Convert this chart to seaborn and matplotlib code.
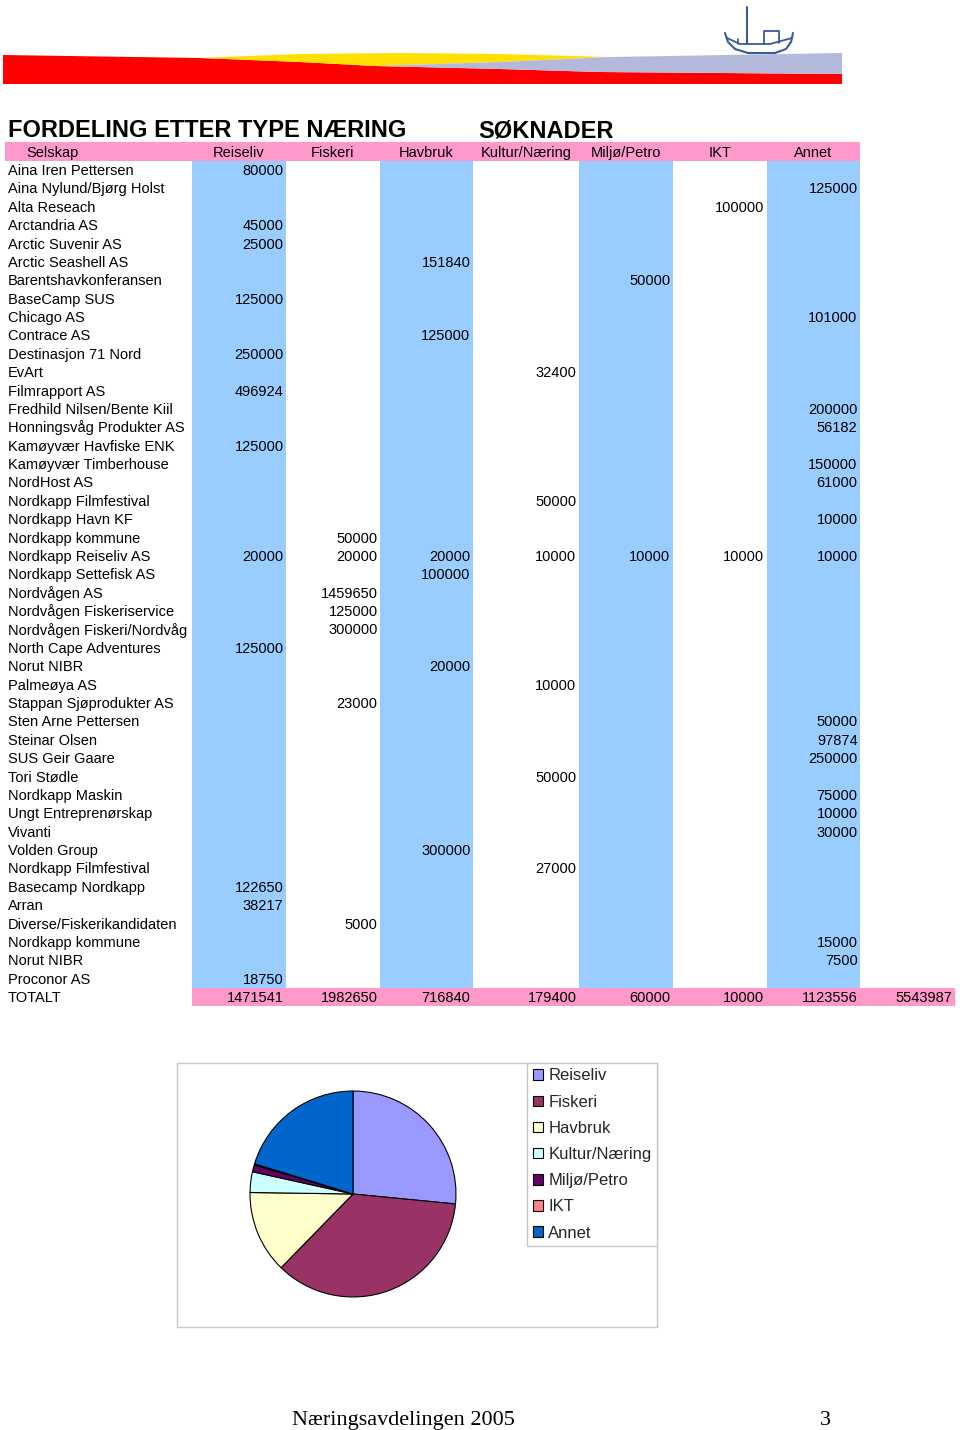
import matplotlib
matplotlib.use("Agg")
import matplotlib.pyplot as plt
from matplotlib.patches import Rectangle
import seaborn as sns

# ---------------- data ----------------
companies = [
    "Aina Iren Pettersen", "Aina Nylund/Bjørg Holst", "Alta Reseach", "Arctandria AS",
    "Arctic Suvenir AS", "Arctic Seashell AS", "Barentshavkonferansen", "BaseCamp SUS",
    "Chicago AS", "Contrace AS", "Destinasjon 71 Nord", "EvArt", "Filmrapport AS",
    "Fredhild Nilsen/Bente Kiil", "Honningsvåg Produkter AS", "Kamøyvær Havfiske ENK",
    "Kamøyvær Timberhouse", "NordHost AS", "Nordkapp Filmfestival", "Nordkapp Havn KF",
    "Nordkapp kommune", "Nordkapp Reiseliv AS", "Nordkapp Settefisk AS", "Nordvågen AS",
    "Nordvågen Fiskeriservice", "Nordvågen Fiskeri/Nordvåg", "North Cape Adventures",
    "Norut NIBR", "Palmeøya AS", "Stappan Sjøprodukter AS", "Sten Arne Pettersen",
    "Steinar Olsen", "SUS Geir Gaare", "Tori Stødle", "Nordkapp Maskin",
    "Ungt Entreprenørskap", "Vivanti", "Volden Group", "Nordkapp Filmfestival",
    "Basecamp Nordkapp", "Arran", "Diverse/Fiskerikandidaten", "Nordkapp kommune",
    "Norut NIBR", "Proconor AS",
]
categories = ["Reiseliv", "Fiskeri", "Havbruk", "Kultur/Næring", "Miljø/Petro", "IKT", "Annet"]

# values keyed by row index in `companies`
reiseliv = {0: 80000, 3: 45000, 4: 25000, 7: 125000, 10: 250000, 12: 496924, 15: 125000,
            21: 20000, 26: 125000, 39: 122650, 40: 38217, 44: 18750}
fiskeri = {20: 50000, 21: 20000, 23: 1459650, 24: 125000, 25: 300000, 29: 23000, 41: 5000}
havbruk = {5: 151840, 9: 125000, 21: 20000, 22: 100000, 27: 20000, 37: 300000}
kultur = {11: 32400, 18: 50000, 21: 10000, 28: 10000, 33: 50000, 38: 27000}
miljo = {6: 50000, 21: 10000}
ikt = {2: 100000, 21: 10000}
annet = {1: 125000, 8: 101000, 13: 200000, 14: 56182, 16: 150000, 17: 61000, 19: 10000,
         21: 10000, 30: 50000, 31: 97874, 32: 250000, 34: 75000, 35: 10000, 36: 30000,
         42: 15000, 43: 7500}
totals = [1471541, 1982650, 716840, 179400, 60000, 10000, 1123556]
grand_total = 5543987

pie_colors = ["#9999FF", "#993366", "#FFFFCC", "#CCFFFF", "#660066", "#FF8080", "#0066CC"]

# ---------------- style ----------------
sns.set_theme(style="white")
plt.rcParams["font.family"] = ["Liberation Sans", "DejaVu Sans"]

PINK = "#FF99CC"
BLUE = "#99CCFF"

fig = plt.figure(figsize=(9.6, 14.3), dpi=100)
ax = fig.add_axes([0, 0, 1, 1])
ax.set_xlim(0, 960)
ax.set_ylim(1430, 0)
ax.axis("off")

# ---------------- logo ----------------
red_top = [(3, 55), (200, 58), (300, 62), (375, 66), (500, 69), (600, 72), (842, 74)]
xs = [p[0] for p in red_top] + [842, 3]
ys = [p[1] for p in red_top] + [84, 84]
ax.fill(xs, ys, color="#FF0000", lw=0)
yel = [(200, 58), (300, 54), (400, 53), (500, 54), (610, 57), (500, 62), (375, 66), (300, 62)]
ax.fill([p[0] for p in yel], [p[1] for p in yel], color="#FFE000", lw=0)
lav = [(375, 66), (500, 62), (610, 57), (842, 53), (842, 74), (600, 72), (500, 69)]
ax.fill([p[0] for p in lav], [p[1] for p in lav], color="#B4B9DC", lw=0)
boat = "#3A5A9A"
ax.plot([747, 747], [7, 44], color=boat, lw=1.5)
hx = [725, 728, 735, 748, 775, 786, 791, 793]
hy = [33, 42, 49, 53, 53, 49, 42, 33]
ax.plot(hx, hy, color=boat, lw=1.5)
ax.plot([727, 740, 770, 792], [38, 44, 44, 38], color=boat, lw=1.3)
ax.plot([764, 764, 779, 779], [44, 31, 31, 43], color=boat, lw=1.3)
ax.plot([738, 738], [39, 44], color=boat, lw=1.2)

# ---------------- table ----------------
FS = 10.5
title_y = 137
ax.text(8, title_y, "FORDELING ETTER TYPE NÆRING", fontsize=17, fontweight="bold",
        va="baseline", ha="left", color="black")
ax.text(478, title_y, "SØKNADER", fontsize=17, fontweight="bold",
        va="baseline", ha="left", color="black")

col_edges = [192, 286, 380, 473, 579, 673, 767, 860, 955]
shaded = [True, False, True, False, True, False, True]
row0 = 161
row_h = 18.38
n_rows = len(companies)
total_top = 988

ax.add_patch(Rectangle((5, 142), 860 - 5, 19, color=PINK, lw=0))
for j, sh in enumerate(shaded):
    if sh:
        ax.add_patch(Rectangle((col_edges[j], row0), col_edges[j + 1] - col_edges[j],
                               total_top - row0, color=BLUE, lw=0))
ax.add_patch(Rectangle((192, total_top), 955 - 192, 18, color=PINK, lw=0))

ax.text(52, 157, "Selskap", fontsize=FS, ha="center", va="baseline", color="black")
for j, cat in enumerate(categories):
    cx = (col_edges[j] + col_edges[j + 1]) / 2
    ax.text(cx, 157, cat, fontsize=FS, ha="center", va="baseline", color="black")

def base(i):
    return 175.0 + i * row_h

for i, name in enumerate(companies):
    ax.text(8, base(i), name, fontsize=FS, ha="left", va="baseline", color="black")

columns = [reiseliv, fiskeri, havbruk, kultur, miljo, ikt, annet]
for j, col in enumerate(columns):
    for i, v in col.items():
        ax.text(col_edges[j + 1] - 2.5, base(i), f"{v}", fontsize=FS, ha="right",
                va="baseline", color="black")

ax.text(8, base(n_rows), "TOTALT", fontsize=FS, ha="left", va="baseline", color="black")
for j, t in enumerate(totals):
    ax.text(col_edges[j + 1] - 2.5, base(n_rows), f"{t}", fontsize=FS, ha="right",
            va="baseline", color="black")
ax.text(col_edges[-1] - 2.5, base(n_rows), f"{grand_total}", fontsize=FS, ha="right",
        va="baseline", color="black")

# ---------------- pie chart ----------------
ax.add_patch(Rectangle((177, 1063), 657 - 177, 1327 - 1063, fill=False,
                       edgecolor="#C8C8C8", lw=1))
cx, cy, r = 353, 1194, 104
ax_pie = fig.add_axes([(cx - r) / 960, 1 - (cy + r) / 1430, 2 * r / 960, 2 * r / 1430])
wedges, _ = ax_pie.pie(totals, colors=pie_colors, startangle=90, counterclock=False,
                       wedgeprops=dict(edgecolor="black", linewidth=0.8))
ax_pie.set_xlim(-1.01, 1.01)
ax_pie.set_ylim(-1.01, 1.01)

leg = fig.legend(wedges, categories, loc="upper right",
                 bbox_to_anchor=(657 / 960, 1 - 1063 / 1430), borderaxespad=0,
                 fontsize=12, frameon=True, fancybox=False, framealpha=1,
                 borderpad=0.33, labelspacing=0.67, handlelength=0.6, handleheight=0.6,
                 handletextpad=0.33)
leg.get_frame().set_edgecolor("#C8C8C8")
leg.get_frame().set_linewidth(1)
for h in leg.legend_handles:
    h.set_edgecolor("black")
    h.set_linewidth(0.8)

# ---------------- footer ----------------
ax.text(292, 1425, "Næringsavdelingen 2005", fontsize=16, ha="left", va="baseline",
        family=["Liberation Serif", "DejaVu Serif"], color="black")
ax.text(831, 1425, "3", fontsize=16, ha="right", va="baseline",
        family=["Liberation Serif", "DejaVu Serif"], color="black")

fig.savefig("out.png", dpi=100)
